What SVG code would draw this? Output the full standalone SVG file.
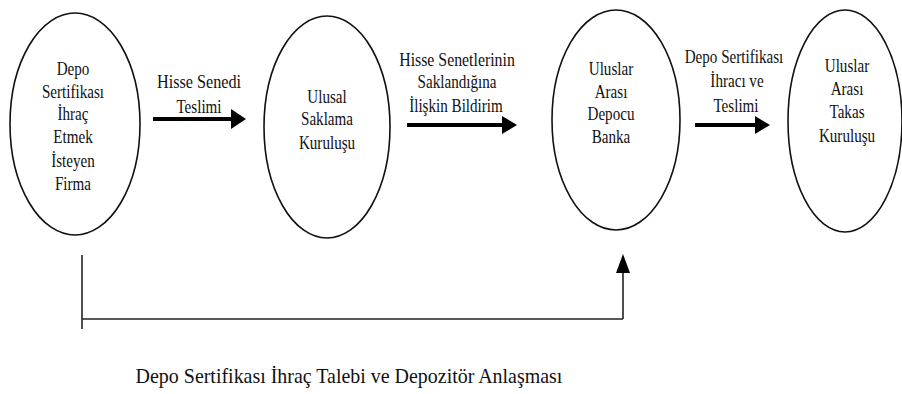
<svg xmlns="http://www.w3.org/2000/svg" width="902" height="394" viewBox="0 0 902 394">
<style>
.node ellipse{fill:#fff;stroke:#111;stroke-width:1.6}
.thick{stroke:#000;stroke-width:4;fill:none}
.thin{stroke:#222;stroke-width:1.6;fill:none}
.head{fill:#000}
</style>
<rect width="902" height="394" fill="#fff"/>
<g font-family="Liberation Serif, Times New Roman, serif" font-size="18" fill="#111" text-anchor="middle">
<g id="node-firma" class="node">
<ellipse cx="75" cy="124" rx="65" ry="111"/>
<text transform="translate(73,75) scale(0.84,1)">Depo</text>
<text transform="translate(73,98) scale(0.84,1)">Sertifikası</text>
<text transform="translate(73,120) scale(0.84,1)">İhraç</text>
<text transform="translate(73,143) scale(0.84,1)">Etmek</text>
<text transform="translate(73,167) scale(0.84,1)">İsteyen</text>
<text transform="translate(73,190) scale(0.84,1)">Firma</text>
</g>
<g id="node-ulusal" class="node">
<ellipse cx="327" cy="127" rx="63" ry="111"/>
<text transform="translate(327,103) scale(0.84,1)">Ulusal</text>
<text transform="translate(327,125) scale(0.84,1)">Saklama</text>
<text transform="translate(327,149) scale(0.84,1)">Kuruluşu</text>
</g>
<g id="node-depocu" class="node">
<ellipse cx="616" cy="120" rx="64" ry="110"/>
<text transform="translate(611,75) scale(0.84,1)">Uluslar</text>
<text transform="translate(611,98) scale(0.84,1)">Arası</text>
<text transform="translate(611,120) scale(0.84,1)">Depocu</text>
<text transform="translate(611,143) scale(0.84,1)">Banka</text>
</g>
<g id="node-takas" class="node">
<ellipse cx="845" cy="121" rx="57" ry="111"/>
<text transform="translate(847,72) scale(0.84,1)">Uluslar</text>
<text transform="translate(847,95) scale(0.84,1)">Arası</text>
<text transform="translate(847,118) scale(0.84,1)">Takas</text>
<text transform="translate(847,142) scale(0.84,1)">Kuruluşu</text>
</g>
<g id="connectors">
<line class="thick" x1="153" y1="119" x2="234" y2="119"/>
<polygon class="head" points="231,109 246,119 231,129"/>
<line class="thick" x1="407" y1="125" x2="505" y2="125"/>
<polygon class="head" points="502,116 517,125 502,134"/>
<line class="thick" x1="695" y1="125" x2="757" y2="125"/>
<polygon class="head" points="755,116 770,125 755,134"/>
<line class="thin" x1="82" y1="255" x2="82" y2="329"/>
<line class="thin" x1="82" y1="319" x2="623" y2="319"/>
<line class="thin" x1="623" y1="319" x2="623" y2="270"/>
<polygon class="head" points="616,273 623,254 630,273"/>
</g>
<g id="labels">
<text transform="translate(199,88) scale(0.9,1)">Hisse Senedi</text>
<text transform="translate(199,113) scale(0.84,1)">Teslimi</text>
<text transform="translate(457,66) scale(0.88,1)">Hisse Senetlerinin</text>
<text transform="translate(457,88) scale(0.84,1)">Saklandığına</text>
<text transform="translate(456,112) scale(0.84,1)">İlişkin  Bildirim</text>
<text transform="translate(734,63) scale(0.84,1)">Depo Sertifikası</text>
<text transform="translate(737,87) scale(0.84,1)">İhracı ve</text>
<text transform="translate(736,112) scale(0.84,1)">Teslimi</text>
<text transform="translate(349,383) scale(0.95,1)" font-size="21">Depo Sertifikası İhraç Talebi ve Depozitör Anlaşması</text>
</g>
</g>
</svg>
